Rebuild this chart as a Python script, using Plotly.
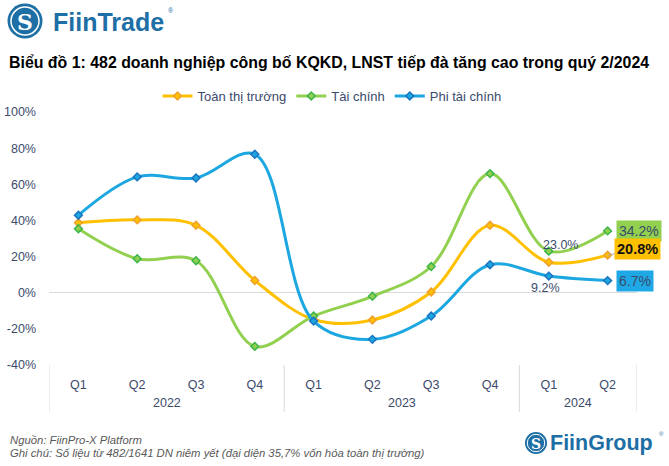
import plotly.graph_objects as go

# ---------------- data ----------------
quarters = ["Q1", "Q2", "Q3", "Q4", "Q1", "Q2", "Q3", "Q4", "Q1", "Q2"]
years = ["2022", "2023", "2024"]
year_sizes = [4, 4, 2]
series_names = ["Toàn thị trường", "Tài chính", "Phi tài chính"]
toan_tt = [38.7, 40.3, 37.3, 6.8, -14.8, -15.1, 0.4, 37.3, 16.9, 20.8]
tai_chinh = [35.4, 18.8, 17.7, -29.7, -12.9, -2.0, 14.5, 65.9, 23.0, 34.2]
phi_tc = [42.9, 64.1, 63.5, 76.6, -15.7, -25.8, -12.9, 15.5, 9.2, 6.7]
y_ticks = [-40, -20, 0, 20, 40, 60, 80, 100]

# ---------------- style ----------------
W, H = 669, 466
ML, MR, MT, MB = 49, 32, 112, 101
PW, PH = W - ML - MR, H - MT - MB
SANS = "Liberation Sans, Arial, sans-serif"
NAVY = "#3b4a6b"
line_colors = ["#FFC000", "#92D050", "#1CA7E0"]
marker_colors = ["#F0A030", "#3DB54A", "#1B74C0"]
box_colors = ["#FFC000", "#92D050", "#1EA9E6"]
BRAND = "#1d6fa5"


def px(xp):
    return (xp - ML) / PW


def py(yp):
    return (H - MB - yp) / PH


x_idx = list(range(len(quarters)))
fig = go.Figure()
for name, vals, lc, mc in zip(series_names, [toan_tt, tai_chinh, phi_tc], line_colors, marker_colors):
    fig.add_trace(go.Scatter(
        x=x_idx, y=vals, name=name, mode="lines+markers",
        line=dict(color=lc, width=3, shape="spline", smoothing=1.0),
        marker=dict(symbol="diamond", size=6, color=lc, line=dict(color=mc, width=1.5)),
    ))

shapes = []
annotations = []

# group dividers and year labels
bounds = [-0.5]
for s in year_sizes:
    bounds.append(bounds[-1] + s)
for b in bounds:
    shapes.append(dict(type="line", xref="x", yref="paper", x0=b, x1=b, y0=0, y1=-47 / PH,
                       line=dict(color="#d9d9d9", width=1)))
for i, yr in enumerate(years):
    annotations.append(dict(text=yr, xref="x", yref="paper", x=(bounds[i] + bounds[i + 1]) / 2, y=0,
                            yshift=-38, showarrow=False, yanchor="middle",
                            font=dict(family=SANS, size=12.5, color=NAVY)))

# data labels
last = len(quarters) - 1
annotations.append(dict(text="23.0%", x=last - 1, y=tai_chinh[-2], xref="x", yref="y", showarrow=False,
                        xshift=12, yshift=6, font=dict(family=SANS, size=12.5, color=NAVY)))
annotations.append(dict(text="9.2%", x=last - 1, y=phi_tc[-2], xref="x", yref="y", showarrow=False,
                        xshift=-3, yshift=-12, font=dict(family=SANS, size=12.5, color=NAVY)))
annotations.append(dict(text=f"{tai_chinh[-1]:.1f}%", x=last, y=tai_chinh[-1], xref="x", yref="y",
                        showarrow=False, xanchor="left", xshift=8, bgcolor=box_colors[1], borderpad=2,
                        font=dict(family=SANS, size=14, color=NAVY)))
annotations.append(dict(text=f"<b>{toan_tt[-1]:.1f}%</b>", x=last, y=toan_tt[-1], xref="x", yref="y",
                        showarrow=True, arrowhead=0, arrowcolor="#a6a6a6", arrowwidth=1, ax=30, ay=-6,
                        bgcolor=box_colors[0], borderpad=2,
                        font=dict(family=SANS, size=14.5, color="#111111")))
annotations.append(dict(text=f"{phi_tc[-1]:.1f}%", x=last, y=phi_tc[-1], xref="x", yref="y",
                        showarrow=False, xanchor="left", xshift=8, bgcolor=box_colors[2], borderpad=2,
                        font=dict(family=SANS, size=14, color=NAVY)))

# title
annotations.append(dict(text="<b>Biểu đồ 1: 482 doanh nghiệp công bố KQKD, LNST tiếp đà tăng cao trong quý 2/2024</b>",
                        xref="paper", yref="paper", x=px(7), y=py(62), xanchor="left", yanchor="middle",
                        showarrow=False, font=dict(family=SANS, size=15.9, color="#000000")))

# FiinTrade logo
cx, cy, r = 25, 21, 17.5
shapes.append(dict(type="circle", xref="paper", yref="paper", x0=px(cx - r), x1=px(cx + r),
                   y0=py(cy + r), y1=py(cy - r), fillcolor=BRAND, line=dict(color=BRAND, width=0)))
r2 = 14
shapes.append(dict(type="circle", xref="paper", yref="paper", x0=px(cx - r2), x1=px(cx + r2),
                   y0=py(cy + r2), y1=py(cy - r2), line=dict(color="white", width=1.5)))
annotations.append(dict(text="<b>S</b>", xref="paper", yref="paper", x=px(cx), y=py(cy + 1),
                        showarrow=False, xanchor="center", yanchor="middle",
                        font=dict(family="DejaVu Serif, serif", size=22, color="white")))
annotations.append(dict(text="<b>FiinTrade</b>", xref="paper", yref="paper", x=px(51), y=py(22),
                        showarrow=False, xanchor="left", yanchor="middle",
                        font=dict(family=SANS, size=25, color=BRAND)))
annotations.append(dict(text="®", xref="paper", yref="paper", x=px(166), y=py(10),
                        showarrow=False, xanchor="left", yanchor="middle",
                        font=dict(family=SANS, size=7, color=BRAND)))

# FiinGroup logo
gx, gy, gr = 536, 443, 11
shapes.append(dict(type="circle", xref="paper", yref="paper", x0=px(gx - gr), x1=px(gx + gr),
                   y0=py(gy + gr), y1=py(gy - gr), fillcolor=BRAND, line=dict(color=BRAND, width=0)))
gr2 = 8.7
shapes.append(dict(type="circle", xref="paper", yref="paper", x0=px(gx - gr2), x1=px(gx + gr2),
                   y0=py(gy + gr2), y1=py(gy - gr2), line=dict(color="white", width=1)))
annotations.append(dict(text="<b>S</b>", xref="paper", yref="paper", x=px(gx), y=py(gy + 0.5),
                        showarrow=False, xanchor="center", yanchor="middle",
                        font=dict(family="DejaVu Serif, serif", size=14, color="white")))
annotations.append(dict(text="<b>FiinGroup</b>", xref="paper", yref="paper", x=px(548), y=py(443),
                        showarrow=False, xanchor="left", yanchor="middle",
                        font=dict(family=SANS, size=21.5, color=BRAND)))
annotations.append(dict(text="®", xref="paper", yref="paper", x=px(657), y=py(434),
                        showarrow=False, xanchor="left", yanchor="middle",
                        font=dict(family=SANS, size=6, color=BRAND)))

# footer
annotations.append(dict(text="<i>Nguồn: FiinPro-X Platform</i>", xref="paper", yref="paper",
                        x=px(8), y=py(440), xanchor="left", yanchor="middle", showarrow=False,
                        font=dict(family=SANS, size=11.3, color="#595959")))
annotations.append(dict(text="<i>Ghi chú: Số liệu từ 482/1641 DN niêm yết (đại diện 35,7% vốn hóa toàn thị trường)</i>",
                        xref="paper", yref="paper", x=px(8), y=py(453), xanchor="left", yanchor="middle",
                        showarrow=False, font=dict(family=SANS, size=11.3, color="#595959")))

fig.update_layout(
    width=W, height=H,
    margin=dict(l=ML, r=MR, t=MT, b=MB, pad=0, autoexpand=False),
    paper_bgcolor="white", plot_bgcolor="white",
    showlegend=True,
    legend=dict(orientation="h", x=px(332), xanchor="center", y=py(96), yanchor="middle",
                font=dict(family=SANS, size=13, color=NAVY), bgcolor="rgba(0,0,0,0)",
                itemwidth=30),
    xaxis=dict(range=[-0.5, len(quarters) - 0.5], tickmode="array", tickvals=x_idx, ticktext=quarters,
               showgrid=False, zeroline=False, showline=False, ticks="", ticklabelstandoff=10,
               automargin=False,
               tickfont=dict(family=SANS, size=12.5, color=NAVY), fixedrange=True),
    yaxis=dict(range=[-40, 100], tickmode="array", tickvals=y_ticks,
               ticktext=[f"{v}%" for v in y_ticks], showgrid=False, zeroline=True,
               zerolinecolor="#d9d9d9", zerolinewidth=1, showline=False, ticks="",
               automargin=False,
               ticklabelstandoff=12, tickfont=dict(family=SANS, size=12.5, color=NAVY), fixedrange=True),
    shapes=shapes, annotations=annotations,
)

fig.write_html("out.html")
